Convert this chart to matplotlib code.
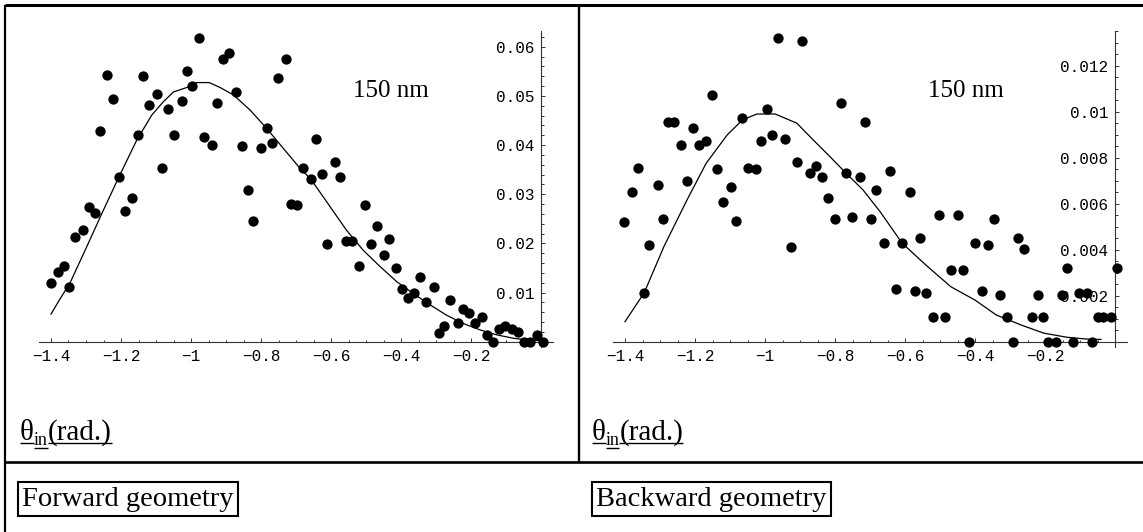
import matplotlib.pyplot as plt
from matplotlib.ticker import FixedLocator, FixedFormatter

# ---- data ----
fwd_x = [-1.400, -1.379, -1.362, -1.348, -1.331, -1.308, -1.292, -1.274, -1.260, -1.239,
         -1.222, -1.206, -1.189, -1.168, -1.151, -1.136, -1.119, -1.098, -1.082, -1.065,
         -1.049, -1.027, -1.011, -0.996, -0.978, -0.962, -0.941, -0.925, -0.909, -0.891,
         -0.871, -0.853, -0.838, -0.822, -0.800, -0.784, -0.768, -0.751, -0.729, -0.715,
         -0.698, -0.679, -0.658, -0.644, -0.627, -0.611, -0.588, -0.574, -0.558, -0.541,
         -0.519, -0.502, -0.487, -0.470, -0.449, -0.433, -0.415, -0.398, -0.379, -0.362,
         -0.346, -0.329, -0.307, -0.291, -0.277, -0.259, -0.238, -0.222, -0.205, -0.189,
         -0.169, -0.153, -0.136, -0.120, -0.103, -0.082, -0.065, -0.048, -0.031, -0.012, 0.007]
fwd_y = [0.0119, 0.0142, 0.0153, 0.0112, 0.0212, 0.0227, 0.0273, 0.0261, 0.0428, 0.0543,
         0.0494, 0.0335, 0.0266, 0.0292, 0.0420, 0.0540, 0.0481, 0.0504, 0.0354, 0.0474,
         0.0420, 0.0490, 0.0551, 0.0520, 0.0617, 0.0416, 0.0400, 0.0486, 0.0574, 0.0587,
         0.0508, 0.0397, 0.0308, 0.0246, 0.0393, 0.0435, 0.0405, 0.0536, 0.0574, 0.0281,
         0.0277, 0.0354, 0.0331, 0.0412, 0.0342, 0.0199, 0.0365, 0.0335, 0.0204, 0.0204,
         0.0154, 0.0277, 0.0199, 0.0235, 0.0176, 0.0208, 0.0150, 0.0107, 0.0089, 0.0100,
         0.0131, 0.0080, 0.0111, 0.0018, 0.0031, 0.0084, 0.0038, 0.0066, 0.0058, 0.0038,
         0.0050, 0.0013, 0.0, 0.0025, 0.0031, 0.0025, 0.0020, 0.0, 0.0, 0.0013, 0.0]

fwd_fit_x = [-1.400, -1.376, -1.346, -1.298, -1.250, -1.206, -1.155, -1.112, -1.079, -1.050,
             -1.012, -0.984, -0.948, -0.917, -0.879, -0.831, -0.784, -0.736, -0.689, -0.658,
             -0.603, -0.556, -0.508, -0.460, -0.412, -0.365, -0.317, -0.270, -0.222, -0.174,
             -0.127, -0.079, -0.031, 0.0]
fwd_fit_y = [0.0056, 0.0085, 0.0119, 0.0193, 0.0268, 0.0335, 0.0410, 0.0461, 0.0488, 0.0508,
             0.0517, 0.0527, 0.0527, 0.0517, 0.0502, 0.0471, 0.0434, 0.0393, 0.0353, 0.0331,
             0.0275, 0.0227, 0.0186, 0.0153, 0.0122, 0.0098, 0.0075, 0.0054, 0.0037, 0.0024,
             0.0014, 0.0007, 0.0003, 0.0002]

bwd_x = [-1.402, -1.379, -1.363, -1.345, -1.331, -1.307, -1.291, -1.276, -1.259, -1.239,
         -1.223, -1.206, -1.189, -1.168, -1.151, -1.136, -1.119, -1.097, -1.082, -1.065,
         -1.049, -1.026, -1.011, -0.994, -0.979, -0.962, -0.942, -0.926, -0.909, -0.893,
         -0.871, -0.855, -0.838, -0.820, -0.799, -0.782, -0.768, -0.751, -0.730, -0.714,
         -0.698, -0.682, -0.660, -0.642, -0.625, -0.608, -0.587, -0.572, -0.556, -0.540,
         -0.519, -0.503, -0.487, -0.470, -0.449, -0.433, -0.416, -0.400, -0.379, -0.363,
         -0.347, -0.330, -0.309, -0.292, -0.276, -0.260, -0.238, -0.221, -0.207, -0.191,
         -0.169, -0.152, -0.136, -0.120, -0.104, -0.081, -0.065, -0.050, -0.033, -0.012, 0.005]
bwd_y = [0.00519, 0.00650, 0.00757, 0.00213, 0.00419, 0.00683, 0.00533, 0.00954, 0.00954, 0.00857,
         0.00699, 0.00930, 0.00857, 0.00873, 0.01071, 0.00750, 0.00609, 0.00674, 0.00526, 0.00973,
         0.00757, 0.00750, 0.00873, 0.01013, 0.00897, 0.01319, 0.00883, 0.00412, 0.00781, 0.01309,
         0.00732, 0.00765, 0.00716, 0.00625, 0.00533, 0.01038, 0.00732, 0.00542, 0.00716, 0.00955,
         0.00533, 0.00658, 0.00428, 0.00743, 0.00229, 0.00428, 0.00650, 0.00220, 0.00452, 0.00213,
         0.00106, 0.00551, 0.00106, 0.00312, 0.00551, 0.00312, 0.0, 0.00428, 0.00220, 0.00419,
         0.00535, 0.00204, 0.00106, 0.0, 0.00452, 0.00403, 0.00106, 0.00204, 0.00106, 0.0,
         0.0, 0.00204, 0.00320, 0.0, 0.00213, 0.00213, 0.0, 0.00106, 0.00106, 0.00106, 0.00320]

bwd_fit_x = [-1.400, -1.345, -1.289, -1.223, -1.168, -1.108, -1.064, -1.023, -0.971, -0.909,
             -0.862, -0.814, -0.768, -0.720, -0.671, -0.608, -0.535, -0.469, -0.400, -0.339,
             -0.269, -0.203, -0.136, -0.070, -0.040]
bwd_fit_y = [0.00087, 0.00213, 0.00413, 0.00616, 0.00776, 0.00899, 0.00965, 0.00990, 0.00990, 0.00950,
             0.00877, 0.00804, 0.00732, 0.00660, 0.00565, 0.00428, 0.00326, 0.00239, 0.00181, 0.00116,
             0.00073, 0.00037, 0.00019, 0.00010, 0.00010]

x_ticks = [-1.4, -1.2, -1.0, -0.8, -0.6, -0.4, -0.2]
x_ticklabels = ['\u22121.4', '\u22121.2', '\u22121', '\u22120.8', '\u22120.6', '\u22120.4', '\u22120.2']
fwd_yticks = [0.01, 0.02, 0.03, 0.04, 0.05, 0.06]
fwd_yticklabels = ['0.01', '0.02', '0.03', '0.04', '0.05', '0.06']
bwd_yticks = [0.002, 0.004, 0.006, 0.008, 0.010, 0.012]
bwd_yticklabels = ['0.002', '0.004', '0.006', '0.008', '0.01', '0.012']

W, H = 1143, 532
fig = plt.figure(figsize=(W / 100, H / 100), dpi=100)
fig.patch.set_facecolor('white')

# full-figure layer in pixel units for the table frame and captions
bg = fig.add_axes([0, 0, 1, 1], zorder=0)
bg.set_xlim(0, W)
bg.set_ylim(H, 0)
bg.axis('off')

for xs, ys, lw in [([5, W], [5, 5], 2.2), ([5, 5], [5, H], 1.6),
                   ([578.5, 578.5], [5, 462], 1.7), ([5, W], [462, 462], 1.9)]:
    bg.plot(xs, ys, color='black', lw=lw, solid_capstyle='butt')

serif = 'Liberation Serif'
mono = 'Liberation Mono'


def make_panel(ox, oy, sx, sy, xlim, ylim, xb, yb):
    left = ox + sx * xlim[0]
    right = ox + sx * xlim[1]
    top = oy - sy * ylim[1]
    bottom = oy - sy * ylim[0]
    ax = fig.add_axes([left / W, 1 - bottom / H, (right - left) / W, (bottom - top) / H], zorder=2)
    ax.set_xlim(xlim)
    ax.set_ylim(ylim)
    ax.patch.set_alpha(0)
    for s in ['top', 'right']:
        ax.spines[s].set_visible(False)
    for s in ['left', 'bottom']:
        ax.spines[s].set_position(('data', 0))
        ax.spines[s].set_color('#333333')
        ax.spines[s].set_linewidth(0.8)
    ax.spines['bottom'].set_bounds(*xb)
    ax.spines['left'].set_bounds(*yb)
    ax.tick_params(which='both', direction='in', color='#333333', width=0.7)
    ax.tick_params(which='major', length=3.2)
    ax.tick_params(which='minor', length=1.8)
    ax.tick_params(axis='x', pad=5)
    ax.tick_params(axis='y', pad=5)
    return ax


def finish(ax, yticks, ylabels, yminor):
    ax.xaxis.set_major_locator(FixedLocator(x_ticks))
    ax.xaxis.set_major_formatter(FixedFormatter(x_ticklabels))
    minor_x = [round(-1.4 + 0.05 * i, 3) for i in range(28)]
    ax.xaxis.set_minor_locator(FixedLocator(minor_x))
    ax.yaxis.set_major_locator(FixedLocator(yticks))
    ax.yaxis.set_major_formatter(FixedFormatter(ylabels))
    ax.yaxis.set_minor_locator(FixedLocator(yminor))
    for lab in ax.get_xticklabels() + ax.get_yticklabels():
        lab.set_fontfamily(mono)
        lab.set_fontsize(11.5)


# forward panel
ax1 = make_panel(541, 341.7, 350, 4917, (-1.44, 0.04), (-0.0015, 0.0635),
                 (-1.434, 0.034), (-0.0011, 0.0632))
ax1.plot(fwd_fit_x, fwd_fit_y, color='black', lw=0.9, clip_on=False)
ax1.scatter(fwd_x, fwd_y, s=55, color='black', linewidths=0, clip_on=False, zorder=3)
finish(ax1, fwd_yticks, fwd_yticklabels, [0.002 * i for i in range(1, 32)])

# backward panel
ax2 = make_panel(1115, 341.7, 350, 23000, (-1.44, 0.04), (-0.0003, 0.0136),
                 (-1.435, 0.035), (-0.00025, 0.0135))
ax2.plot(bwd_fit_x, bwd_fit_y, color='black', lw=0.9, clip_on=False)
ax2.scatter(bwd_x, bwd_y, s=55, color='black', linewidths=0, clip_on=False, zorder=3)
finish(ax2, bwd_yticks, bwd_yticklabels, [0.0005 * i for i in range(1, 28)])

# "150 nm" labels
bg.text(352.7, 96.7, '150 nm', fontfamily=serif, fontsize=18, va='baseline', ha='left')
bg.text(928.3, 96.7, '150 nm', fontfamily=serif, fontsize=18, va='baseline', ha='left')

renderer = fig.canvas.get_renderer()
inv = bg.transData.inverted()


def underlined(x, y, pieces):
    for s, size, dy in pieces:
        t = bg.text(x, y + dy, s, fontfamily=serif, fontsize=size, va='baseline', ha='left')
        bb = t.get_window_extent(renderer)
        x_end = inv.transform((bb.x1, bb.y0))[0]
        bg.plot([x, x_end], [y + dy + 2.5, y + dy + 2.5], color='black', lw=1.0,
                solid_capstyle='butt')
        x = x_end


theta_pieces = [('\u03b8', 21, 0), ('in', 13, 5), ('(rad.)', 21, 0)]
underlined(20, 440, theta_pieces)
underlined(591.7, 440, theta_pieces)

box = dict(boxstyle='square,pad=0.15', facecolor='white', edgecolor='black', linewidth=1.5)
bg.text(22.3, 499, 'Forward geometry', fontfamily=serif, fontsize=20.5,
        va='center', ha='left', bbox=box)
bg.text(596, 499, 'Backward geometry', fontfamily=serif, fontsize=20.5,
        va='center', ha='left', bbox=box)

fig.savefig('out.png', dpi=100)
